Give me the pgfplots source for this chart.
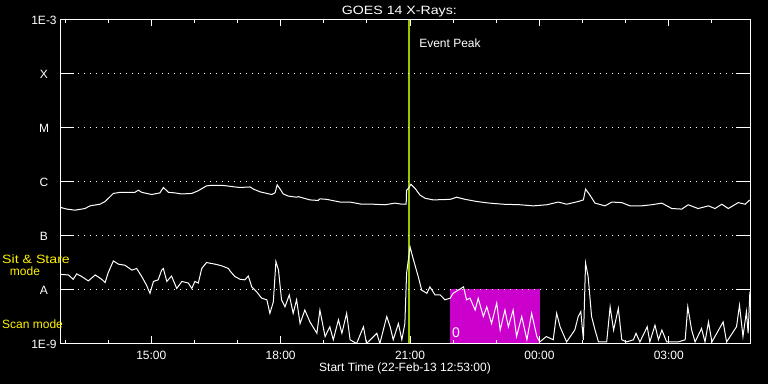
\documentclass[border=0pt]{standalone}
\usepackage{fontspec}
\setmainfont{Liberation Sans}
\newfontfamily\widefont[FakeStretch=1.18]{Liberation Sans}
\usepackage{pgfplots}
\usepackage{pgfplotstable}
\pgfplotsset{compat=1.18}
\definecolor{evgreen}{RGB}{150,200,0}
\definecolor{scanmag}{RGB}{204,0,204}

% hours since 22-Feb-13 00:00 UT, log10 flux (W/m^2)
\pgfplotstableread{
h L
12.90 -6.49
13.04 -6.52
13.23 -6.54
13.46 -6.51
13.58 -6.46
13.81 -6.43
13.93 -6.38
14.12 -6.23
14.28 -6.21
14.62 -6.21
14.70 -6.17
14.78 -6.21
15.01 -6.25
15.20 -6.22
15.28 -6.12
15.40 -6.21
15.55 -6.22
15.70 -6.24
15.94 -6.23
16.09 -6.18
16.28 -6.09
16.40 -6.08
16.63 -6.08
16.75 -6.09
16.94 -6.11
17.06 -6.12
17.29 -6.11
17.37 -6.15
17.52 -6.20
17.79 -6.25
17.87 -6.22
17.92 -6.07
17.98 -6.14
18.06 -6.24
18.18 -6.28
18.37 -6.30
18.41 -6.29
18.68 -6.35
18.87 -6.36
18.91 -6.33
19.07 -6.34
19.38 -6.39
19.61 -6.39
19.88 -6.43
20.15 -6.43
20.42 -6.44
20.65 -6.41
20.81 -6.43
20.91 -6.43
20.92 -6.17
20.96 -6.14
21.02 -6.06
21.12 -6.14
21.23 -6.26
21.35 -6.32
21.54 -6.35
21.93 -6.34
22.08 -6.30
22.28 -6.34
22.55 -6.38
22.85 -6.41
23.16 -6.43
23.55 -6.44
23.86 -6.46
24.17 -6.44
24.44 -6.39
24.63 -6.43
24.90 -6.38
25.02 -6.35
25.07 -6.15
25.17 -6.26
25.29 -6.41
25.52 -6.46
25.68 -6.39
25.91 -6.40
26.10 -6.46
26.37 -6.46
26.60 -6.44
26.84 -6.41
27.07 -6.51
27.30 -6.52
27.45 -6.44
27.68 -6.51
27.92 -6.46
28.07 -6.51
28.23 -6.43
28.38 -6.51
28.61 -6.40
28.77 -6.43
28.88 -6.35
}\goesLong

\pgfplotstableread{
h L
12.91 -7.73
13.08 -7.74
13.19 -7.82
13.27 -7.72
13.39 -7.77
13.54 -7.85
13.70 -7.74
13.85 -7.82
13.93 -7.88
14.00 -7.70
14.12 -7.48
14.24 -7.54
14.39 -7.56
14.55 -7.65
14.66 -7.62
14.78 -7.77
14.89 -7.93
14.97 -8.08
15.05 -7.86
15.16 -7.83
15.24 -7.65
15.28 -7.62
15.36 -7.86
15.47 -7.76
15.59 -7.99
15.71 -7.86
15.86 -7.89
15.94 -7.99
16.01 -7.86
16.09 -7.89
16.17 -7.62
16.28 -7.51
16.48 -7.54
16.63 -7.57
16.79 -7.62
16.83 -7.67
16.94 -7.77
17.06 -7.82
17.17 -7.83
17.25 -7.76
17.33 -7.96
17.44 -8.05
17.56 -8.17
17.68 -8.20
17.75 -8.45
17.83 -8.24
17.89 -7.49
17.95 -7.65
18.02 -8.20
18.10 -8.33
18.20 -8.11
18.29 -8.45
18.37 -8.20
18.45 -8.64
18.56 -8.39
18.68 -8.61
18.84 -8.82
18.91 -8.39
19.03 -8.88
19.14 -8.70
19.22 -8.94
19.34 -8.57
19.42 -8.82
19.53 -8.45
19.61 -8.94
19.76 -9.01
19.92 -8.70
19.99 -9.01
20.23 -8.82
20.30 -9.01
20.46 -8.51
20.54 -8.70
20.61 -8.94
20.73 -8.64
20.81 -8.94
20.88 -8.64
20.92 -7.71
21.00 -7.22
21.08 -7.46
21.19 -7.77
21.27 -8.02
21.39 -8.08
21.46 -7.96
21.58 -8.11
21.70 -8.11
21.81 -8.20
21.93 -8.17
22.00 -8.08
22.12 -8.02
22.24 -7.96
22.31 -8.20
22.39 -8.17
22.51 -8.39
22.58 -8.17
22.70 -8.51
22.78 -8.33
22.89 -8.64
23.01 -8.26
23.09 -8.76
23.20 -8.39
23.28 -8.70
23.39 -8.39
23.47 -8.88
23.59 -8.51
23.71 -8.94
23.82 -8.45
23.94 -8.88
24.01 -8.98
24.16 -8.88
24.32 -8.94
24.40 -8.45
24.48 -8.70
24.63 -8.98
24.82 -8.76
24.90 -8.51
24.96 -8.42
25.02 -8.94
25.07 -7.52
25.13 -7.77
25.21 -8.51
25.29 -8.76
25.37 -8.98
25.56 -8.98
25.64 -8.33
25.72 -8.76
25.83 -8.36
25.91 -8.94
26.02 -8.98
26.18 -8.94
26.24 -8.82
26.33 -8.98
26.50 -8.70
26.56 -8.98
26.68 -8.67
26.76 -8.94
26.84 -8.76
26.95 -8.98
27.22 -8.98
27.38 -8.94
27.44 -8.33
27.53 -8.76
27.61 -8.98
27.76 -8.73
27.84 -8.98
27.92 -8.61
28.00 -8.98
28.26 -8.61
28.34 -8.98
28.57 -8.70
28.64 -8.30
28.72 -8.88
28.80 -8.42
28.84 -8.82
28.88 -8.05
}\goesShort

\begin{document}
\fontsize{12}{14}\selectfont
\begin{tikzpicture}[x=1pt,y=1pt]
\fill[black] (0,0) rectangle (768,384);
\begin{axis}[
  at={(60pt,41pt)}, anchor=south west,
  scale only axis, width=690pt, height=324pt,
  xmin=12.8833, xmax=28.8833, ymin=-9, ymax=-3,
  axis line style={white, line width=1pt},
  axis on top,
  xtick={15,18,21,24,27},
  xticklabels={15:00,18:00,21:00,00:00,03:00},
  minor xtick={13,14,16,17,19,20,22,23,25,26,28},
  major tick length=7pt, minor tick length=3.5pt,
  tick style={white, line width=1pt},
  ytick={-9,-8,-7,-6,-5,-4,-3},
  yticklabels={1E-9,A,B,C,M,X,1E-3},
  ytick style={draw=none},
  ymajorgrids,
  major grid style={white, line width=0.9pt, dash pattern=on 1pt off 5pt},
  tick label style={white, font=\fontsize{12}{14}\selectfont},
  xticklabel style={anchor=base, yshift=-16pt},
  yticklabel style={anchor=center, xshift=-16pt, yshift=-1pt},
  xlabel={Start Time (22-Feb-13 12:53:00)},
  xlabel style={white, font=\fontsize{12}{14}\selectfont, at={(axis description cs:0.5,0)}, anchor=base, yshift=-28.7pt},
]
% scan-mode interval
\addplot[fill=scanmag, draw=none] coordinates {(21.93,-9) (21.93,-8) (24.01,-8) (24.01,-9)} -- cycle;
% event peak marker
\addplot[evgreen, line width=2.2pt] coordinates {(20.98,-9) (20.98,-3)};
% data
\addplot[white, line width=1pt] table[x=h, y=L] {\goesLong};
\addplot[white, line width=1pt] table[x=h, y=L] {\goesShort};
\node[white, anchor=west, inner sep=0pt] at (axis cs:21.21,-3.44) {Event Peak};
\end{axis}
% long inward y ticks on both sides (one per decade)
\foreach \yy in {95,149,203,257,311} {
  \draw[white, line width=1pt] (60,\yy) -- (74,\yy);
  \draw[white, line width=1pt] (736,\yy) -- (750,\yy);
}
\node[white, anchor=base east, inner sep=0pt] at (457,370) {\widefont GOES 14 X-Rays:};
\node[yellow, anchor=base west, inner sep=0pt] at (2,121) {\widefont Sit \& Stare};
\node[yellow, anchor=base, inner sep=0pt] at (25,109) {mode};
\node[yellow, anchor=base west, inner sep=0pt] at (2,56) {Scan mode};
\node[white, inner sep=0pt, font=\fontsize{14}{16}\selectfont] at (456,51.5) {0};
\pgfresetboundingbox
\useasboundingbox (0,0) rectangle (768,384);
\end{tikzpicture}
\end{document}
